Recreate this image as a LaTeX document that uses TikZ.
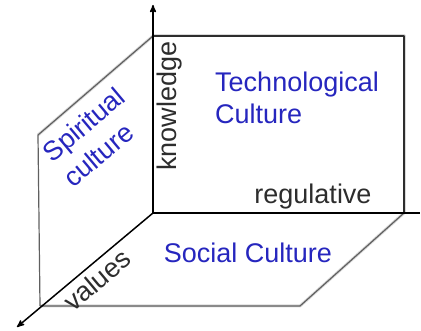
\documentclass[tikz,border=0pt]{standalone}
\usepackage{fontspec}
\setmainfont{Liberation Sans}
\usetikzlibrary{arrows,positioning}
\definecolor{cultblue}{RGB}{38,38,190}
\definecolor{inkgray}{RGB}{45,45,45}
\tikzset{
    axis/.style={
           draw=black,
           line width=1.5pt
           },
    plane/.style={
           draw=gray!75!black,
           line width=1.2pt
           },
    techbox/.style={
           draw=inkgray,
           line width=1.4pt
           },
    shadowline/.style={
           draw=gray!30,
           line width=3pt,
           shift={(2,2)}
           },
    culture/.style={
           text=cultblue,
           inner sep=0pt,
           font=\fontsize{27}{32}\selectfont
           },
    axislabel/.style={
           text=inkgray,
           inner sep=0pt,
           font=\fontsize{27}{32}\selectfont
           }
}
\begin{document}
\begin{tikzpicture}[x=1pt, y=-1pt, >=stealth', line join=round]
   \useasboundingbox (0,0) rectangle (421,331);
   % corners of the three planes
   \coordinate (O) at (153,213);
   \coordinate (ktip) at (153,5);
   \coordinate (rend) at (420,213);
   \coordinate (vtip) at (17,327);
   \coordinate (wallT) at (153,36);
   \coordinate (wallL) at (38,135);
   \coordinate (wallB) at (40,306);
   \coordinate (floorR) at (404,213);
   \coordinate (floorB) at (300,306);
   \coordinate (techTR) at (404,36);
   \coordinate (techTL) at (153,36);
   % soft shadows
   \draw[shadowline] (wallT) -- (wallL);
   \draw[shadowline] (wallB) -- (floorB) -- (floorR);
   \draw[shadowline] (techTL) -- (techTR) -- (floorR);
   % planes
   \draw[plane] (wallT) -- (wallL) -- (wallB);
   \draw[plane] (wallB) -- (floorB) -- (floorR);
   \draw[techbox] (O) rectangle (techTR);
   % axes
   \draw[axis,->] (O) -- (ktip);
   \draw[axis] (O) -- (rend);
   \draw[axis,->] (O) -- (vtip);
   % texts
   \node[culture, align=left, anchor=west] (tech) at (215,98) {Technological\\Culture};
   \node[culture] (social) at (248,253) {Social Culture};
   \node[culture, align=left, rotate=40, font=\fontsize{27}{33}\selectfont] (spirit) at (94,137) {Spiritual\\culture};
   \node[axislabel, rotate=90] (know) at (170,106) {knowledge};
   \node[axislabel] (regul) at (313,197) {regulative};
   \node[axislabel, rotate=40] (vals) at (97,280) {values};
\end{tikzpicture}
\end{document}
